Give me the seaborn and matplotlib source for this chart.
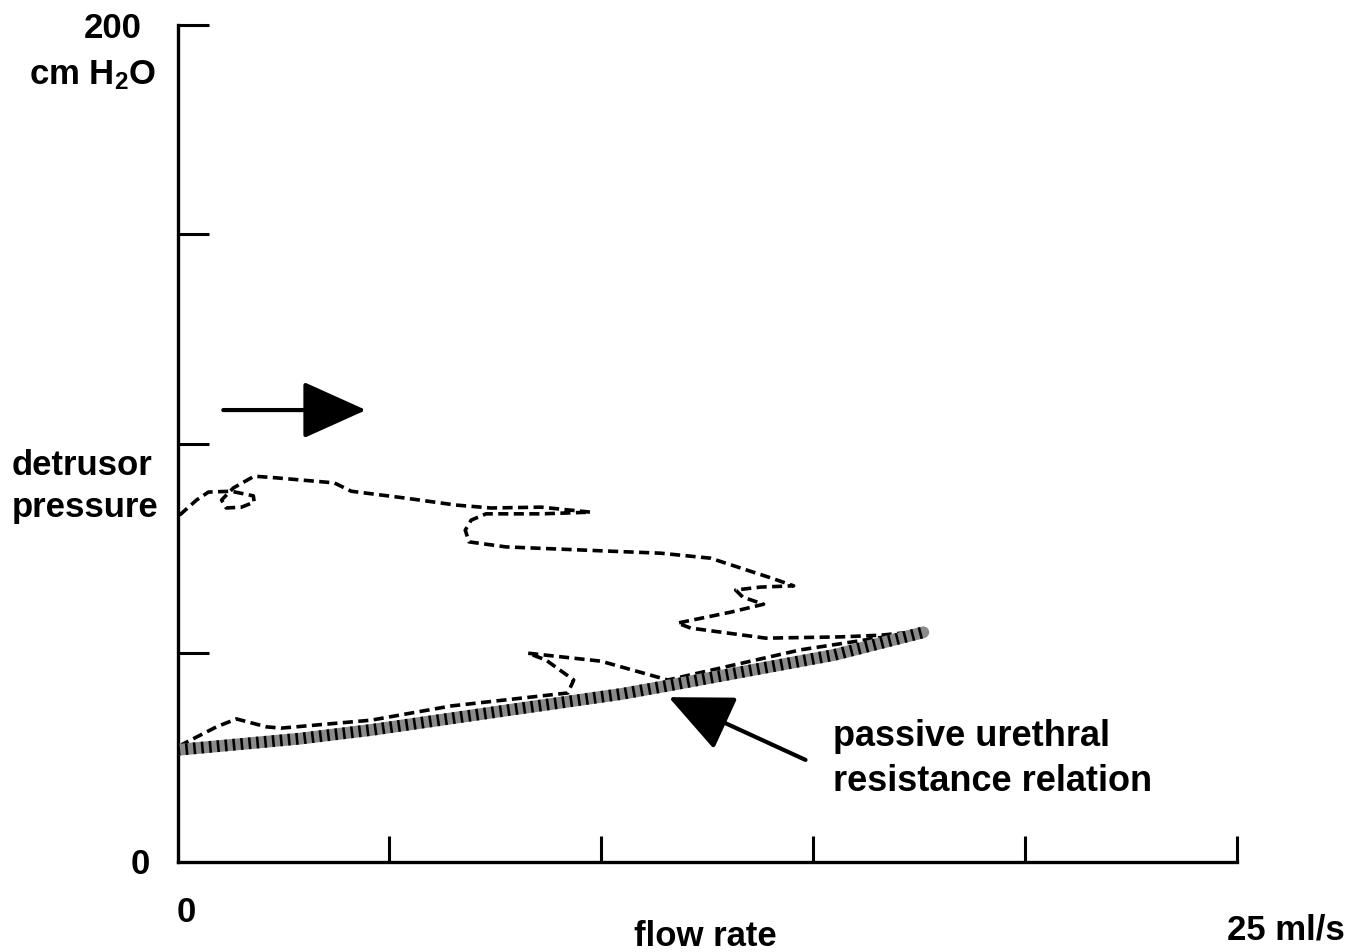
import pandas as pd
import seaborn as sns
import matplotlib.pyplot as plt

# pressure-flow trace during voiding (flow ml/s, detrusor pressure cm H2O)
trace_flow = [0.05, 0.45, 0.73, 1.27, 1.79, 1.81, 1.51, 1.15, 1.04, 1.32, 1.81, 2.33,
              3.70, 4.10, 5.35, 6.57, 7.40, 8.58, 9.75, 8.58, 7.28, 6.93, 6.79, 6.88,
              7.75, 10.16, 11.40, 12.58, 14.00, 14.54, 13.76, 13.17, 13.34, 13.83, 13.05,
              11.80, 12.11, 13.88, 15.65, 16.59, 17.60, 14.70, 11.57, 9.99, 8.27, 8.69,
              9.35, 9.21, 6.46, 4.57, 2.45, 2.10, 1.39, 0.92, 0.09]
trace_pdet = [82.9, 86.5, 88.4, 88.6, 87.5, 86.0, 84.8, 84.6, 86.5, 89.4, 92.2, 91.8,
              90.6, 88.6, 87.0, 85.3, 84.6, 84.8, 83.6, 83.2, 83.2, 81.7, 79.3, 76.5,
              75.3, 74.3, 73.8, 72.6, 67.9, 66.0, 65.7, 65.0, 63.3, 61.6, 59.7,
              57.1, 55.9, 53.5, 53.8, 54.2, 55.2, 50.7, 43.5, 48.0, 49.9, 48.3,
              43.5, 40.4, 37.3, 33.9, 32.0, 32.3, 34.2, 32.3, 28.0]

# passive urethral resistance relation
purr_flow = [0.0, 2.9, 4.6, 7.6, 10.5, 11.6, 15.5, 17.6]
purr_pdet = [26.8, 29.5, 31.6, 36.0, 40.2, 42.2, 49.5, 54.9]

x_ticks = [5, 10, 15, 20, 25]
y_ticks = [50, 100, 150, 200]

trace = pd.DataFrame({"flow": trace_flow, "pdet": trace_pdet})
purr = pd.DataFrame({"flow": purr_flow, "pdet": purr_pdet})

sns.set_style("ticks")
plt.rcParams["font.family"] = ["Liberation Sans", "DejaVu Sans"]
plt.rcParams["font.weight"] = "bold"
plt.rcParams["text.color"] = "black"
plt.rcParams["mathtext.fontset"] = "custom"
plt.rcParams["mathtext.rm"] = "Liberation Sans:bold"
plt.rcParams["mathtext.bf"] = "Liberation Sans:bold"
plt.rcParams["mathtext.default"] = "bf"

fig = plt.figure(figsize=(13.56, 9.52), dpi=100)
ax = fig.add_axes([0.1309, 0.0945, 0.7813, 0.8792])

sns.lineplot(data=trace, x="flow", y="pdet", sort=False, estimator=None, ax=ax,
             color="black", lw=2.6, linestyle=(0, (2.8, 1.5)), zorder=2)
sns.lineplot(data=purr, x="flow", y="pdet", sort=False, estimator=None, ax=ax,
             color="#8a8a8a", lw=8.5, solid_capstyle="round", zorder=3)
sns.lineplot(data=purr, x="flow", y="pdet", sort=False, estimator=None, ax=ax,
             color="black", lw=8.5, linestyle=(0, (0.22, 0.45)), zorder=4)

ax.set_xlim(0, 25)
ax.set_ylim(0, 200)
ax.set_xticks(x_ticks)
ax.set_yticks(y_ticks)
ax.set_xticklabels([])
ax.set_yticklabels([])
ax.set_xlabel("")
ax.set_ylabel("")
sns.despine(ax=ax)
for s in ["left", "bottom"]:
    ax.spines[s].set_linewidth(2.4)
    ax.spines[s].set_color("black")
ax.tick_params(axis="y", direction="in", length=22, width=2.2, color="black")
ax.tick_params(axis="x", direction="in", length=19, width=2.2, color="black")

# arrows
arrow = dict(arrowstyle="-|>,head_length=2.0,head_width=0.9", mutation_scale=20,
             lw=3, color="black", shrinkA=0, shrinkB=0)
ax.annotate("", xy=(4.45, 108), xytext=(1.08, 108), arrowprops=arrow)
ax.annotate("", xy=(11.59, 39.4), xytext=(14.82, 24.4), arrowprops=arrow)

fs = 25
fig.text(113 / 1356, 1 - 28 / 952, "200", ha="center", va="center", fontsize=fs)
fig.text(93 / 1356, 1 - 84 / 952, "cm H$_2$O", ha="center", va="baseline", fontsize=fs)
fig.text(12 / 1356, 1 - 475 / 952, "detrusor", ha="left", va="baseline", fontsize=fs)
fig.text(12 / 1356, 1 - 517 / 952, "pressure", ha="left", va="baseline", fontsize=fs)
fig.text(140 / 1356, 1 - 865 / 952, "0", ha="center", va="center", fontsize=fs)
fig.text(186 / 1356, 1 - 912 / 952, "0", ha="center", va="center", fontsize=fs)
fig.text(705 / 1356, 1 - 946 / 952, "flow rate", ha="center", va="baseline", fontsize=fs)
fig.text(1286 / 1356, 1 - 939 / 952, "25 ml/s", ha="center", va="baseline", fontsize=fs)
fig.text(833 / 1356, 1 - 746 / 952, "passive urethral", ha="left", va="baseline", fontsize=26)
fig.text(833 / 1356, 1 - 791 / 952, "resistance relation", ha="left", va="baseline", fontsize=26)

fig.savefig("out.png", dpi=100, facecolor="white")
